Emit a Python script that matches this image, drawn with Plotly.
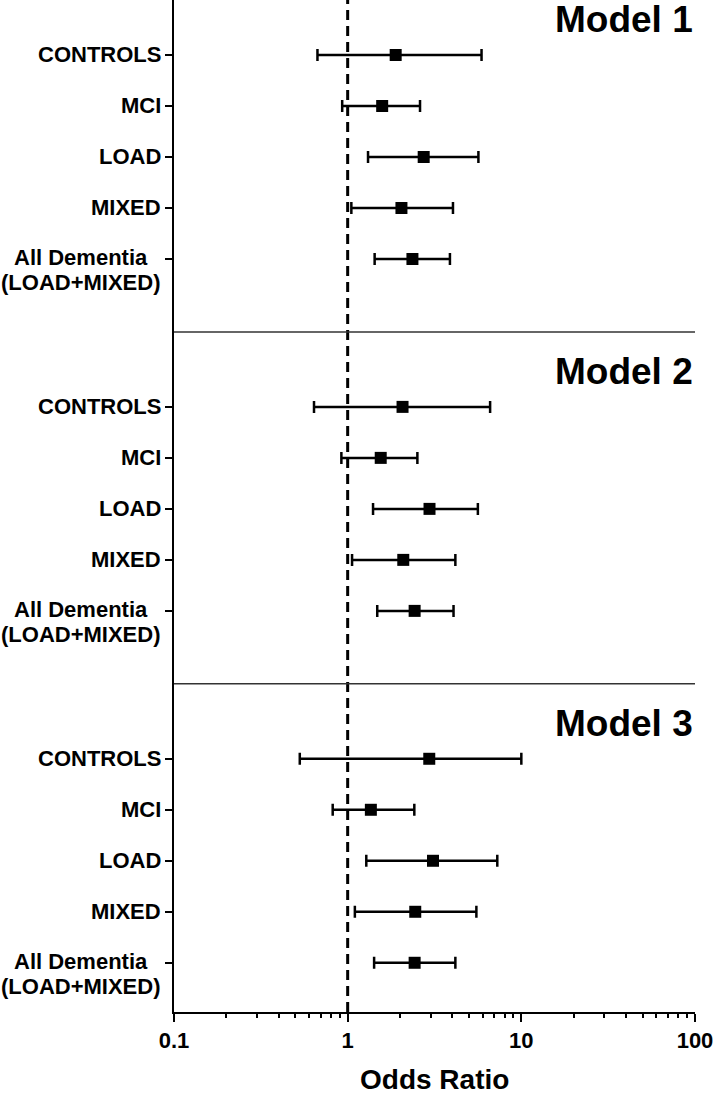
import plotly.graph_objects as go

# ---- data ----
categories = ["CONTROLS", "MCI", "LOAD", "MIXED", "All Dementia"]
models = ["Model 1", "Model 2", "Model 3"]

or_m1 = [1.89, 1.58, 2.74, 2.04, 2.36]
lo_m1 = [0.67, 0.93, 1.31, 1.05, 1.43]
hi_m1 = [5.90, 2.61, 5.66, 4.04, 3.88]

or_m2 = [2.07, 1.55, 2.96, 2.09, 2.43]
lo_m2 = [0.64, 0.92, 1.40, 1.06, 1.48]
hi_m2 = [6.61, 2.52, 5.62, 4.17, 4.07]

or_m3 = [2.95, 1.36, 3.10, 2.45, 2.43]
lo_m3 = [0.53, 0.82, 1.28, 1.10, 1.42]
hi_m3 = [10.0, 2.42, 7.27, 5.51, 4.17]

x_tick_vals = [0.1, 1, 10, 100]
x_tick_text = ["0.1", "1", "10", "100"]
x_title = "Odds Ratio"

# ---- layout helpers (positions, not data) ----
MODEL_STEP = 6.9
FONT = "Liberation Sans, Arial, sans-serif"

all_or = [or_m1, or_m2, or_m3]
all_lo = [lo_m1, lo_m2, lo_m3]
all_hi = [hi_m1, hi_m2, hi_m3]

fig = go.Figure()
row_pos = []
annotations = []
for m, name in enumerate(models):
    ys = [m * MODEL_STEP + i for i in range(len(categories))]
    row_pos += ys
    o, lo, hi = all_or[m], all_lo[m], all_hi[m]
    fig.add_trace(go.Scatter(
        x=o, y=ys, mode="markers", name=name, showlegend=False,
        marker=dict(symbol="square", size=12, color="black"),
        error_x=dict(type="data", symmetric=False,
                     array=[h - v for h, v in zip(hi, o)],
                     arrayminus=[v - l for v, l in zip(o, lo)],
                     color="black", thickness=2.5, width=6),
    ))
    # model title
    annotations.append(dict(
        text=f"<b>{name}</b>", xref="paper", x=1.0, xanchor="right",
        yref="y", y=m * MODEL_STEP - 0.69, yanchor="middle", showarrow=False,
        font=dict(family=FONT, size=37, color="black")))
    # category labels
    for i, cat in enumerate(categories):
        if cat == "All Dementia":
            annotations.append(dict(
                text="<b>All Dementia</b>", xref="paper", x=-0.1785, xanchor="center",
                yref="y", y=ys[i], yanchor="middle", yshift=1, showarrow=False,
                font=dict(family=FONT, size=22, color="black")))
            annotations.append(dict(
                text="<b>(LOAD+MIXED)</b>", xref="paper", x=-0.1785, xanchor="center",
                yref="y", y=ys[i], yanchor="middle", yshift=-24, showarrow=False,
                font=dict(family=FONT, size=22, color="black")))
        else:
            annotations.append(dict(
                text=f"<b>{cat}</b>", xref="paper", x=-0.021, xanchor="right",
                yref="y", y=ys[i], yanchor="middle", showarrow=False,
                font=dict(family=FONT, size=22, color="black")))

# x-axis title
annotations.append(dict(
    text=f"<b>{x_title}</b>", xref="paper", x=0.5, xanchor="center",
    yref="paper", y=-0.067, yanchor="middle", showarrow=False,
    font=dict(family=FONT, size=28, color="black")))

shapes = [
    # reference line at OR = 1
    dict(type="line", xref="x", x0=1, x1=1, yref="paper", y0=0, y1=1,
         line=dict(color="black", width=3, dash="10px,6px")),
]
# separators between models
for m in range(1, len(models)):
    yy = m * MODEL_STEP - 1.47
    shapes.append(dict(type="line", xref="paper", x0=0, x1=1, yref="y", y0=yy, y1=yy,
                       line=dict(color="#333333", width=1.5)))

minor_vals = [k * 10 ** e for e in (-1, 0, 1) for k in range(2, 10)]

fig.update_layout(
    width=716, height=1097,
    margin=dict(l=174, r=21, t=0, b=85),
    paper_bgcolor="white", plot_bgcolor="white",
    shapes=shapes, annotations=annotations,
    xaxis=dict(
        type="log", range=[-1, 2], showgrid=False, zeroline=False,
        showline=True, linecolor="black", linewidth=2,
        tickvals=x_tick_vals, ticktext=[f"<b>{t}</b>" for t in x_tick_text],
        ticks="outside", ticklen=8, tickwidth=2, tickcolor="black",
        tickfont=dict(family=FONT, size=22, color="black"),
        minor=dict(tickvals=minor_vals, ticks="outside", ticklen=4, tickwidth=1.5,
                   tickcolor="black", showgrid=False),
    ),
    yaxis=dict(
        range=[18.765, -1.078], showgrid=False, zeroline=False,
        showline=True, linecolor="black", linewidth=2,
        tickvals=row_pos, ticktext=[""] * len(row_pos), showticklabels=False,
        ticks="outside", ticklen=7, tickwidth=2, tickcolor="black",
    ),
)

fig.write_html("out.html",
               config={"displayModeBar": False},
               post_script="document.body.style.margin='0';document.body.style.overflow='hidden';")
